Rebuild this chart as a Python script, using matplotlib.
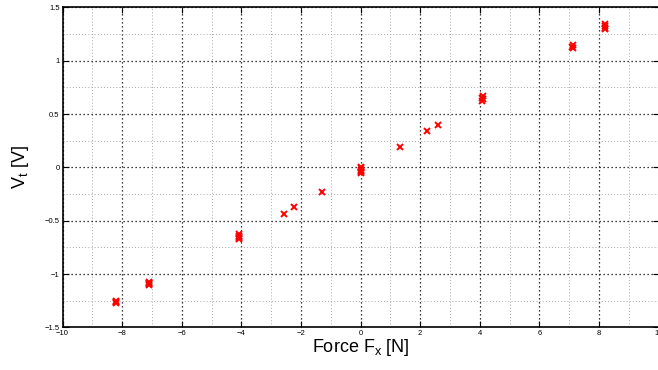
import numpy as np
import matplotlib
matplotlib.use("Agg")
import matplotlib.pyplot as plt
from matplotlib.ticker import MultipleLocator, FuncFormatter

plt.rcParams['font.family'] = ['Liberation Sans', 'DejaVu Sans']
plt.rcParams['mathtext.fontset'] = 'custom'
plt.rcParams['mathtext.rm'] = 'Liberation Sans'
plt.rcParams['mathtext.it'] = 'Liberation Sans:italic'

# measured force [N] and output voltage [V]
force = [-8.21, -8.20, -8.21, -8.20,
         -7.10, -7.09, -7.10, -7.09, -7.10,
         -4.09, -4.08, -4.09, -4.08, -4.09,
         -2.58, -2.23, -1.28,
         0.00, 0.00, 0.01, 0.00, 0.00, 0.01,
         1.31, 2.24, 2.59,
         4.09, 4.10, 4.09, 4.10,
         7.11, 7.10, 7.11,
         8.19, 8.20, 8.19, 8.20]
voltage = [-1.255, -1.265, -1.275, -1.260,
           -1.070, -1.080, -1.090, -1.100, -1.085,
           -0.625, -0.640, -0.650, -0.660, -0.670,
           -0.435, -0.375, -0.229,
           0.000, -0.010, -0.020, -0.030, -0.040, -0.050,
           0.193, 0.340, 0.400,
           0.625, 0.640, 0.655, 0.670,
           1.115, 1.130, 1.145,
           1.295, 1.310, 1.325, 1.340]

fig = plt.figure(figsize=(6.58, 3.70), dpi=100)
ax = fig.add_axes([0.095, 0.115, 0.906, 0.865])

ax.plot(force, voltage, 'x', color='red', markersize=4.5, markeredgewidth=1.4, linestyle='none')

ax.set_xlim(-10, 10)
ax.set_ylim(-1.5, 1.5)
ax.xaxis.set_major_locator(MultipleLocator(2))
ax.xaxis.set_minor_locator(MultipleLocator(1))
ax.yaxis.set_major_locator(MultipleLocator(0.5))
ax.yaxis.set_minor_locator(MultipleLocator(0.25))
fmt = FuncFormatter(lambda v, pos: ('%g' % v).replace('-', '\u2212'))
ax.xaxis.set_major_formatter(fmt)
ax.yaxis.set_major_formatter(fmt)

ax.grid(which='major', color='black', linestyle=(0, (1, 2.2)), linewidth=0.9)
ax.grid(which='minor', color='#a8a8a8', linestyle=(0, (1, 2.2)), linewidth=0.7)

ax.tick_params(which='both', direction='in', top=True, right=True, labelsize=5.5, pad=2)
ax.tick_params(which='major', length=4)
ax.tick_params(which='minor', length=0)
for s in ax.spines.values():
    s.set_linewidth(1.2)

ax.set_xlabel(r'Force $\mathregular{F_x}$ [N]', fontsize=13, labelpad=0)
ax.set_ylabel(r'$\mathregular{V_t}$ [V]', fontsize=13, labelpad=10)

plt.savefig("out.png", dpi=100)
